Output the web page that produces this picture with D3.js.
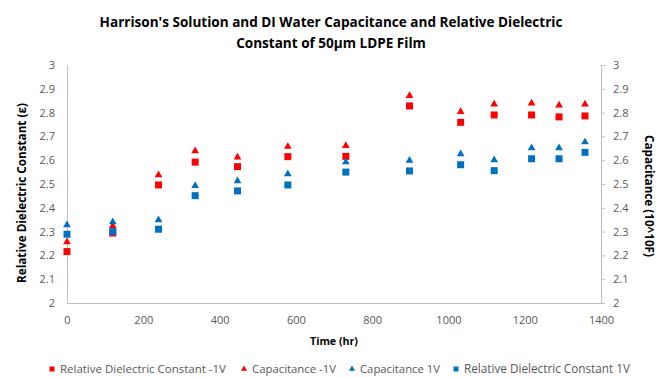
<!DOCTYPE html>
<html>
<head>
<meta charset="utf-8">
<script src="https://cdn.jsdelivr.net/npm/d3@7"></script>
<style>
  body { margin: 0; background: #fff; }
  svg { display: block; font-family: "Open Sans", "Noto Sans", sans-serif; }
</style>
</head>
<body>
<svg id="chart"></svg>
<script>
// Data
const times = [0, 120, 240, 336, 447, 579, 731, 898, 1032, 1120, 1218, 1290, 1358]
const rdcNeg = [2.216, 2.294, 2.496, 2.592, 2.573, 2.615, 2.616, 2.828, 2.759, 2.790, 2.790, 2.782, 2.786]
const capNeg = [2.256, 2.324, 2.538, 2.639, 2.612, 2.657, 2.661, 2.871, 2.804, 2.835, 2.839, 2.831, 2.835]
const capPos = [2.328, 2.340, 2.349, 2.493, 2.513, 2.542, 2.592, 2.599, 2.626, 2.601, 2.651, 2.651, 2.676]
const rdcPos = [2.289, 2.300, 2.310, 2.451, 2.471, 2.496, 2.550, 2.555, 2.581, 2.556, 2.606, 2.606, 2.633]
const xTicks = [0, 200, 400, 600, 800, 1000, 1200, 1400]
const yTicks = [2, 2.1, 2.2, 2.3, 2.4, 2.5, 2.6, 2.7, 2.8, 2.9, 3]

// series in legend / draw order
const series = [
    { name: "Relative Dielectric Constant -1V", values: rdcNeg, color: "#ff0000", shape: d3.symbolSquare },
    { name: "Capacitance -1V", values: capNeg, color: "#ff0000", shape: d3.symbolTriangle },
    { name: "Capacitance 1V", values: capPos, color: "#0070c0", shape: d3.symbolTriangle },
    { name: "Relative Dielectric Constant 1V", values: rdcPos, color: "#0070c0", shape: d3.symbolSquare }
]

const width = 661
const height = 377
const plot = { left: 67, right: 601, top: 65, bottom: 303 }
const axisColor = "#bfbfbf"
const labelColor = "#595959"

const svg = d3.select("#chart")
    .attr("width", width)
    .attr("height", height)

const x = d3.scaleLinear().domain([0, 1400]).range([plot.left, plot.right])
const yLeft = d3.scaleLinear().domain([2, 3]).range([plot.bottom, plot.top])
const yRight = d3.scaleLinear().domain([2, 3]).range([plot.bottom, plot.top])

// shrink a text until it fits the width measured on the reference
function fit(sel, target) {
    const node = sel.node()
    const len = node.getComputedTextLength()
    if (len > 0) {
        const size = parseFloat(sel.attr("font-size"))
        sel.attr("font-size", size * target / len)
    }
}

// Title
const title = svg.append("g")
    .attr("font-weight", "bold")
    .attr("fill", "#000")
    .attr("text-anchor", "middle")
fit(title.append("text").attr("x", 331).attr("y", 27).attr("font-size", 14)
    .text("Harrison's Solution and DI Water Capacitance and Relative Dielectric"), 463)
fit(title.append("text").attr("x", 331).attr("y", 48).attr("font-size", 14)
    .text("Constant of 50µm LDPE Film"), 190)

// Left axis (no ticks, just line + labels)
const leftAxis = svg.append("g")
    .attr("transform", `translate(${plot.left},0)`)
    .call(d3.axisLeft(yLeft).tickValues(yTicks).tickSize(0).tickPadding(12).tickFormat(d3.format("")))
leftAxis.select(".domain").attr("stroke", axisColor)

// Right axis with outward ticks
const rightAxis = svg.append("g")
    .attr("transform", `translate(${plot.right},0)`)
    .call(d3.axisRight(yRight).tickValues(yTicks).tickSize(4).tickSizeOuter(0).tickPadding(8).tickFormat(d3.format("")))
rightAxis.select(".domain").attr("stroke", axisColor)
rightAxis.selectAll(".tick line").attr("stroke", axisColor)

// Bottom axis
const bottomAxis = svg.append("g")
    .attr("transform", `translate(0,${plot.bottom})`)
    .call(d3.axisBottom(x).tickValues(xTicks).tickSize(0).tickPadding(13).tickFormat(d3.format("")))
bottomAxis.select(".domain").attr("stroke", axisColor)

svg.selectAll(".tick text")
    .attr("fill", labelColor)
    .attr("font-size", 11)
    .attr("font-family", "Open Sans, Noto Sans, sans-serif")

// Axis titles
fit(svg.append("text")
    .attr("transform", "translate(26,193) rotate(-90)")
    .attr("text-anchor", "middle")
    .attr("font-weight", "bold")
    .attr("font-size", 12)
    .text("Relative Dielectric Constant (ε)"), 180)

fit(svg.append("text")
    .attr("transform", "translate(645,196) rotate(90)")
    .attr("text-anchor", "middle")
    .attr("font-weight", "bold")
    .attr("font-size", 12)
    .text("Capacitance (10^10F)"), 122)

fit(svg.append("text")
    .attr("x", 334)
    .attr("y", 345)
    .attr("text-anchor", "middle")
    .attr("font-weight", "bold")
    .attr("font-size", 12)
    .text("Time (hr)"), 48)

// Markers
series.forEach(s => {
    const sym = d3.symbol().type(s.shape).size(s.shape === d3.symbolSquare ? 49 : 26)
    svg.append("g")
        .selectAll("path")
        .data(times.map((t, i) => ({ t, v: s.values[i] })))
        .enter().append("path")
        .attr("d", sym)
        .attr("fill", s.color)
        .attr("transform", d => `translate(${x(d.t)},${(s.shape === d3.symbolSquare ? yLeft : yRight)(d.v)})`)
})

// Legend
const legendX = [52, 244, 352, 456]
const legendW = [166, 84, 80, 166]
const legend = svg.append("g")
series.forEach((s, i) => {
    const item = legend.append("g").attr("transform", `translate(${legendX[i]},369)`)
    item.append("path")
        .attr("d", d3.symbol().type(s.shape).size(s.shape === d3.symbolSquare ? 25 : 16))
        .attr("fill", s.color)
    fit(item.append("text")
        .attr("x", 8)
        .attr("y", 4)
        .attr("font-size", 11)
        .attr("fill", labelColor)
        .text(s.name), legendW[i])
})
</script>
</body>
</html>
